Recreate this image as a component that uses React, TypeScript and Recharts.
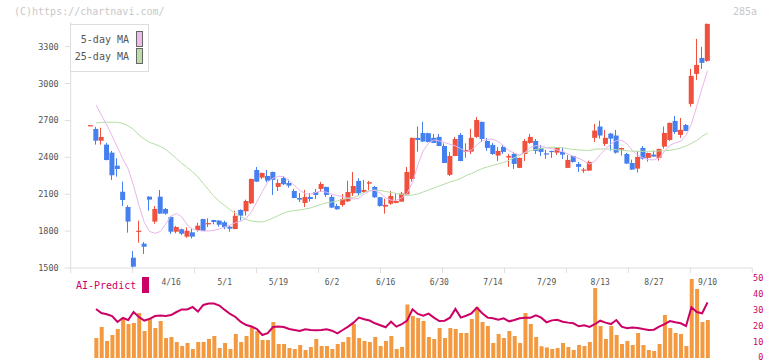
import React from 'react';
import { ComposedChart, Bar, Line, XAxis, YAxis } from 'recharts';

// trading days, 2025
const DATES = [
  '3/26', '3/27', '3/28', '3/31',
  '4/1', '4/2', '4/3', '4/4', '4/7', '4/8', '4/9', '4/10', '4/11', '4/14', '4/15', '4/16', '4/17', '4/18', '4/21', '4/22', '4/23', '4/24', '4/25', '4/28', '4/30',
  '5/1', '5/2', '5/7', '5/8', '5/9', '5/12', '5/13', '5/14', '5/15', '5/16', '5/19', '5/20', '5/21', '5/22', '5/23', '5/26', '5/27', '5/28', '5/29', '5/30',
  '6/2', '6/3', '6/4', '6/5', '6/6', '6/9', '6/10', '6/11', '6/12', '6/13', '6/16', '6/17', '6/18', '6/19', '6/20', '6/23', '6/24', '6/25', '6/26', '6/27', '6/30',
  '7/1', '7/2', '7/3', '7/4', '7/7', '7/8', '7/9', '7/10', '7/11', '7/14', '7/15', '7/16', '7/17', '7/18', '7/22', '7/23', '7/24', '7/25', '7/28', '7/29', '7/30', '7/31',
  '8/1', '8/4', '8/5', '8/6', '8/7', '8/8', '8/12', '8/13', '8/14', '8/15', '8/18', '8/19', '8/20', '8/21', '8/22', '8/25', '8/26', '8/27', '8/28', '8/29',
  '9/1', '9/2', '9/3', '9/4', '9/5', '9/8', '9/9', '9/10',
];

const OPEN = [
  2660, 2630, 2535, 2503, 2438, 2332, 2120, 1996, 1584, 1798, 1698, 2080, 1877, 2080, 1980, 1915, 1795, 1815, 1755, 1790,
  1809, 1898, 1858, 1890, 1885, 1872, 1836, 1817, 1972, 1961, 2026, 2297, 2235, 2248, 2281, 2159, 2232, 2191, 2126, 2069,
  2029, 2078, 2118, 2143, 2159, 2078, 2004, 2013, 2042, 2108, 2208, 2118, 2186, 2159, 2075, 1999, 2023, 2029, 2040, 2099,
  2224, 2558, 2598, 2596, 2558, 2566, 2492, 2257, 2411, 2582, 2446, 2446, 2566, 2688, 2533, 2501, 2414, 2484, 2398, 2427,
  2314, 2427, 2517, 2533, 2476, 2432, 2452, 2438, 2444, 2314, 2411, 2346, 2294, 2292, 2558, 2650, 2509, 2593, 2577, 2463,
  2427, 2354, 2308, 2476, 2395, 2422, 2395, 2487, 2541, 2696, 2582, 2663, 2834, 3078, 3208, 3184,
];
const HIGH = [
  2662, 2647, 2641, 2517, 2452, 2392, 2202, 2010, 1638, 1885, 1711, 2083, 2004, 2134, 1988, 1923, 1842, 1820, 1831, 1820,
  1868, 1900, 1904, 1892, 1890, 1885, 1842, 1966, 1977, 2056, 2226, 2321, 2275, 2297, 2283, 2221, 2248, 2219, 2143, 2110,
  2135, 2110, 2143, 2200, 2162, 2094, 2021, 2102, 2210, 2281, 2230, 2216, 2208, 2167, 2078, 2064, 2126, 2105, 2118, 2322,
  2560, 2650, 2688, 2600, 2590, 2590, 2514, 2444, 2566, 2598, 2514, 2631, 2728, 2690, 2558, 2517, 2484, 2501, 2427, 2444,
  2397, 2549, 2590, 2549, 2501, 2460, 2454, 2484, 2476, 2419, 2414, 2362, 2314, 2373, 2671, 2698, 2623, 2598, 2623, 2478,
  2435, 2381, 2449, 2492, 2438, 2454, 2470, 2650, 2682, 2736, 2720, 2671, 3119, 3363, 3298, 3487,
];
const LOW = [
  2658, 2503, 2503, 2375, 2216, 2243, 2004, 1787, 1502, 1706, 1614, 1966, 1860, 1940, 1934, 1777, 1782, 1768, 1746, 1740,
  1795, 1800, 1833, 1855, 1836, 1815, 1795, 1815, 1887, 1926, 2020, 2200, 2224, 2197, 2094, 2126, 2175, 2153, 2067, 2037,
  1996, 2040, 2061, 2118, 2078, 1988, 1975, 1999, 2037, 2086, 2094, 2110, 2135, 2070, 1999, 1942, 2013, 2026, 2037, 2097,
  2202, 2446, 2525, 2520, 2515, 2490, 2352, 2248, 2409, 2368, 2398, 2427, 2558, 2525, 2452, 2419, 2370, 2427, 2322, 2305,
  2312, 2370, 2509, 2427, 2411, 2387, 2395, 2419, 2387, 2312, 2357, 2281, 2273, 2290, 2525, 2552, 2492, 2454, 2430, 2414,
  2346, 2298, 2276, 2381, 2365, 2403, 2373, 2471, 2533, 2590, 2558, 2612, 2812, 3029, 3119, 3176,
];
const CLOSE = [
  2661, 2535, 2565, 2378, 2254, 2305, 2053, 1877, 1511, 1803, 1673, 2056, 1980, 1942, 1942, 1795, 1833, 1779, 1803, 1755,
  1844, 1801, 1865, 1874, 1852, 1831, 1820, 1925, 1925, 2045, 2224, 2202, 2273, 2210, 2216, 2191, 2181, 2170, 2069, 2056,
  2078, 2061, 2094, 2183, 2094, 1991, 1977, 2061, 2118, 2167, 2108, 2135, 2197, 2075, 2004, 2013, 2086, 2045, 2105, 2281,
  2558, 2541, 2528, 2525, 2517, 2492, 2354, 2411, 2549, 2370, 2460, 2558, 2704, 2549, 2476, 2427, 2452, 2444, 2411, 2346,
  2395, 2533, 2566, 2452, 2444, 2429, 2447, 2476, 2422, 2379, 2362, 2322, 2300, 2362, 2617, 2577, 2558, 2552, 2438, 2476,
  2349, 2300, 2403, 2389, 2435, 2406, 2468, 2598, 2680, 2606, 2623, 2614, 3062, 3151, 3168, 3485,
];

const MA5 = [
  null, 2826, 2744, 2663, 2574, 2480, 2387, 2305, 2170, 2010, 1870, 1797, 1782, 1797, 1858, 1923, 1943, 1915, 1850, 1817,
  1805, 1801, 1801, 1806, 1817, 1834, 1850, 1869, 1880, 1904, 1958, 2040, 2121, 2197, 2229, 2246, 2243, 2208, 2170, 2132,
  2105, 2099, 2115, 2126, 2115, 2099, 2090, 2080, 2067, 2061, 2067, 2102, 2126, 2132, 2108, 2072, 2051, 2051, 2070, 2108,
  2194, 2338, 2454, 2514, 2541, 2533, 2520, 2506, 2492, 2470, 2446, 2460, 2501, 2536, 2547, 2547, 2528, 2492, 2454, 2433,
  2419, 2440, 2480, 2495, 2490, 2478, 2470, 2460, 2446, 2427, 2406, 2392, 2370, 2345, 2368, 2422, 2468, 2509, 2536, 2539,
  2509, 2454, 2417, 2395, 2381, 2379, 2395, 2449, 2498, 2517, 2530, 2580, 2671, 2815, 2964, 3105,
];
const MA25 = [
  null, 2679, 2683, 2685, 2685, 2685, 2675, 2655, 2627, 2582, 2549, 2521, 2506, 2488, 2464, 2427, 2391, 2350, 2317, 2281,
  2240, 2187, 2134, 2082, 2041, 2008, 1972, 1947, 1919, 1894, 1882, 1877, 1874, 1886, 1907, 1927, 1947, 1961, 1967, 1972,
  1980, 1988, 2004, 2017, 2029, 2037, 2045, 2057, 2069, 2073, 2090, 2114, 2130, 2134, 2130, 2122, 2114, 2106, 2098, 2087,
  2094, 2102, 2118, 2134, 2151, 2167, 2183, 2200, 2212, 2228, 2252, 2269, 2289, 2309, 2322, 2334, 2346, 2358, 2376, 2397,
  2417, 2438, 2454, 2464, 2471, 2479, 2482, 2480, 2478, 2470, 2463, 2460, 2457, 2456, 2466, 2468, 2468, 2466, 2461, 2457,
  2453, 2450, 2449, 2449, 2449, 2449, 2452, 2453, 2457, 2464, 2476, 2492, 2513, 2537, 2570, 2598,
];

const VOLUME = [
  null, 12.4, 19.3, 10.6, 14.3, 18.0, 24.2, 21.1, 21.7, 28.0, 16.8, 24.9, 18.7, 23.0, 12.4, 13.1, 9.9, 7.5, 9.3, 5.6,
  9.9, 9.9, 11.8, 13.7, 6.2, 9.3, 5.6, 14.9, 9.9, 13.7, 19.3, 16.8, 11.2, 11.2, 22.4, 8.7, 8.7, 6.2, 5.6, 8.1,
  5.0, 6.8, 11.8, 7.5, 7.5, 5.6, 8.7, 10.0, 13.0, 21.1, 12.4, 10.6, 10.0, 13.1, 7.5, 10.6, 13.7, 5.6, 6.8, 33.2,
  26.1, 24.9, 23.0, 13.1, 11.8, 18.7, 12.4, 18.7, 18.0, 15.5, 15.5, 24.3, 31.7, 22.4, 19.9, 9.3, 14.9, 12.4, 16.8, 13.7,
  9.3, 28.0, 21.1, 13.1, 7.3, 6.6, 5.6, 6.2, 9.3, 6.8, 5.0, 8.1, 7.5, 10.0, 43.5, 19.9, 11.8, 19.9, 14.3, 8.7,
  10.6, 8.1, 15.5, 8.1, 5.0, 4.4, 8.7, 26.7, 18.7, 15.5, 14.9, 7.5, 49.1, 42.9, 22.4, 23.6,
];
const AI_PREDICT = [
  null, 30.5, 28.0, 27.2, 26.1, 22.4, 24.9, 23.6, 28.6, 25.5, 23.3, 24.3, 26.1, 26.4, 26.1, 26.7, 28.6, 30.2, 30.2, 31.7,
  28.9, 33.0, 33.9, 33.9, 32.6, 29.9, 27.4, 25.5, 22.4, 20.5, 19.6, 18.0, 14.3, 15.5, 19.3, 19.6, 19.3, 18.0, 17.4, 16.8,
  17.9, 17.4, 17.2, 17.4, 17.9, 17.0, 15.3, 17.4, 19.5, 22.0, 25.1, 24.1, 23.3, 21.6, 20.4, 19.1, 22.6, 19.5, 21.0, 23.2,
  30.3, 27.4, 26.3, 27.6, 25.1, 23.0, 23.2, 25.1, 30.5, 25.1, 26.3, 27.8, 31.3, 27.8, 25.1, 24.7, 23.8, 24.7, 22.8, 23.6,
  24.7, 25.1, 25.1, 26.5, 25.1, 22.2, 23.4, 23.8, 22.6, 22.0, 21.6, 19.7, 20.3, 19.3, 21.0, 23.2, 22.0, 21.1, 23.6, 19.5,
  18.5, 18.9, 18.7, 18.0, 17.4, 17.6, 19.5, 21.1, 23.0, 22.2, 21.6, 19.9, 31.5, 28.6, 27.8, 34.6,
];

const PRICE_TICKS = [1500, 1800, 2100, 2400, 2700, 3000, 3300];
const AI_TICKS = [0, 10, 20, 30, 40, 50];
const DATE_LABELS = ['4/16', '5/1', '5/19', '6/2', '6/16', '6/30', '7/14', '7/29', '8/13', '8/27', '9/10'];

const UP = '#f0503c';
const DOWN = '#4580f0';
const MONO = '"DejaVu Sans Mono", monospace';
const AXIS = '#dddddd';

const rows = DATES.map((date, k) => ({
  k,
  date,
  open: OPEN[k],
  high: HIGH[k],
  low: LOW[k],
  close: CLOSE[k],
  range: [LOW[k], HIGH[k]],
  ma5: MA5[k],
  ma25: MA25[k],
  vol: VOLUME[k],
  ai: AI_PREDICT[k],
}));

// axis runs a little past the first and last sessions; 11 divider marks along it
const X_DOMAIN: [number, number] = [-3.72, 123.35];
const SEP_TICKS = Array.from({ length: 12 }, (_, n) =>
  n === 11 ? X_DOMAIN[1] : X_DOMAIN[0] + (n * (X_DOMAIN[1] - X_DOMAIN[0])) / 11
);
const LABEL_TICKS = DATE_LABELS.map((d) => DATES.indexOf(d));
const X_TICKS = [...SEP_TICKS, ...LABEL_TICKS].sort((a, b) => a - b);

function Candle(props: any) {
  const { x, y, width, height, payload } = props;
  if (x == null || y == null || !payload) return null;
  const top = Math.min(y, y + height);
  const h = Math.abs(height);
  const span = payload.high - payload.low || 1;
  const ppu = h / span;
  const up = payload.close >= payload.open;
  const color = up ? UP : DOWN;
  const bTop = top + (payload.high - Math.max(payload.open, payload.close)) * ppu;
  const bBot = top + (payload.high - Math.min(payload.open, payload.close)) * ppu;
  const cx = Math.round(x + width / 2) - 0.5;
  return (
    <g>
      <line x1={cx} x2={cx} y1={top} y2={top + Math.max(h, 1)} stroke={color} strokeWidth={1} />
      <rect x={x} y={bTop} width={width} height={Math.max(bBot - bTop, 1.2)} fill={color} />
    </g>
  );
}

function DateTick(props: any) {
  const { x, y, payload } = props;
  const v = payload.value;
  if (Number.isInteger(v)) {
    return (
      <text x={x} y={y + 17} textAnchor="middle" fontFamily={MONO} fontSize={8} fill="#555">
        {DATES[v]}
      </text>
    );
  }
  return <line x1={x} x2={x} y1={y} y2={y + 5} stroke={AXIS} strokeWidth={1} />;
}

function PriceTick(props: any) {
  const { x, y, payload } = props;
  return (
    <text x={x} y={y + 3} textAnchor="end" fontFamily={MONO} fontSize={8.5} fill="#555">
      {payload.value}
    </text>
  );
}

function AiTick(props: any) {
  const { x, y, payload } = props;
  return (
    <text x={x + 11} y={Math.min(y + 3, 89.5)} textAnchor="end" fontFamily={MONO} fontSize={8.5} fill="#cc0066">
      {payload.value}
    </text>
  );
}

const txt = (extra: React.CSSProperties): React.CSSProperties => ({
  position: 'absolute',
  fontFamily: MONO,
  fontSize: 10,
  lineHeight: '12px',
  whiteSpace: 'nowrap',
  ...extra,
});

export default function App() {
  return (
    <div style={{ position: 'absolute', left: 0, top: 0, width: 772, height: 361, background: '#fff', overflow: 'hidden' }}>
      <div style={{ position: 'absolute', left: 0, top: 0 }}>
        <ComposedChart width={772} height={300} data={rows} margin={{ top: 22, right: 19.7, bottom: 0, left: 0 }}>
          <XAxis
            dataKey="k"
            type="number"
            domain={X_DOMAIN}
            ticks={X_TICKS}
            interval={0}
            allowDataOverflow
            tick={<DateTick />}
            tickLine={false}
            tickSize={0}
            tickMargin={0}
            height={32}
            axisLine={{ stroke: AXIS }}
          />
          <YAxis
            domain={[1500, 3500]}
            ticks={PRICE_TICKS}
            interval={0}
            allowDataOverflow
            width={70.7}
            tickSize={6}
            tickMargin={6}
            tick={<PriceTick />}
            tickLine={{ stroke: AXIS }}
            axisLine={{ stroke: AXIS }}
          />
          <Bar dataKey="range" barSize={5} shape={<Candle />} isAnimationActive={false} />
          <Line dataKey="ma25" stroke="#b5dca5" strokeWidth={1} dot={false} activeDot={false} isAnimationActive={false} />
          <Line dataKey="ma5" stroke="#e9b5e9" strokeWidth={1} dot={false} activeDot={false} isAnimationActive={false} />
        </ComposedChart>
      </div>

      <div style={{ position: 'absolute', left: 0, top: 270 }}>
        <ComposedChart width={772} height={91} data={rows} margin={{ top: 7.6, right: 0, bottom: 3, left: 70.7 }}>
          <XAxis dataKey="k" type="number" domain={X_DOMAIN} allowDataOverflow hide />
          <YAxis
            orientation="right"
            domain={[0, 50]}
            ticks={AI_TICKS}
            interval={0}
            width={19.7}
            axisLine={false}
            tickLine={false}
            tickSize={0}
            tickMargin={0}
            tick={<AiTick />}
          />
          <Bar dataKey="vol" fill="#f39a40" barSize={4} isAnimationActive={false} />
          <Line dataKey="ai" stroke="#cc0066" strokeWidth={2} dot={false} activeDot={false} isAnimationActive={false} />
        </ComposedChart>
      </div>

      <div style={txt({ left: 14, top: 6, color: '#c8c8c8' })}>(C)https://chartnavi.com/</div>
      <div style={txt({ left: 733, top: 6, color: '#c8c8c8' })}>285a</div>

      <div
        style={{
          position: 'absolute',
          left: 70,
          top: 24,
          width: 77,
          height: 46,
          border: '1px solid #dddddd',
          background: '#fff',
        }}
      />
      <div style={txt({ left: 70, width: 59, top: 34, textAlign: 'right', color: '#555' })}>5-day MA</div>
      <div style={txt({ left: 70, width: 59, top: 51, textAlign: 'right', color: '#555' })}>25-day MA</div>
      <div style={{ position: 'absolute', left: 136, top: 31, width: 5, height: 14, background: '#eebbee', border: '1px solid #666' }} />
      <div style={{ position: 'absolute', left: 136, top: 48, width: 5, height: 14, background: '#bbddaa', border: '1px solid #666' }} />

      <div style={txt({ left: 76, top: 280, color: '#cc0066' })}>AI-Predict</div>
      <div style={{ position: 'absolute', left: 142, top: 277, width: 7, height: 16, background: '#cc0066' }} />
    </div>
  );
}
